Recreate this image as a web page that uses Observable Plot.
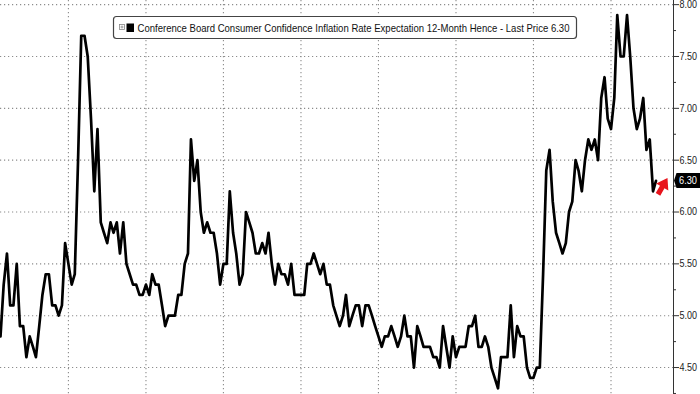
<!DOCTYPE html>
<html><head><meta charset="utf-8">
<script src="https://cdn.jsdelivr.net/npm/d3@7"></script>
<script src="https://cdn.jsdelivr.net/npm/@observablehq/plot@0.6"></script>
<style>
html,body{margin:0;padding:0;background:#fff;}
#chart{width:700px;height:394px;overflow:hidden;}
</style></head><body><div id="chart"></div>
<script>
// ---- data ----
const seriesName = "Conference Board Consumer Confidence Inflation Rate Expectation 12-Month Hence";
const lastLabel = "Last Price";
const startYear = 2006, startMonth = 4; // first monthly observation: April 2006
const values = [
  4.8,5.3,5.6,5.1,5.1,5.5,4.9,4.9,4.6,4.8,4.7,4.6,4.9,5.2,5.4,5.4,5.1,5.1,5.0,5.1,
  5.7,5.5,5.3,5.4,6.5,7.7,7.7,7.5,6.9,6.2,6.8,5.9,5.8,5.7,5.9,5.8,5.9,5.6,5.9,5.5,
  5.4,5.3,5.3,5.2,5.2,5.3,5.2,5.4,5.3,5.3,5.1,4.9,5.0,5.0,5.0,5.2,5.2,5.5,5.6,6.7,
  6.3,6.5,6.0,5.8,5.9,5.8,5.8,5.6,5.3,5.5,5.5,6.2,5.8,5.6,5.3,5.4,6.0,5.9,5.8,5.6,
  5.6,5.7,5.6,5.8,5.5,5.3,5.5,5.4,5.4,5.3,5.5,5.2,5.2,5.2,5.2,5.5,5.5,5.6,5.5,5.4,
  5.5,5.3,5.3,5.1,5.0,4.9,5.0,5.2,4.9,5.0,5.1,5.1,4.9,5.1,5.1,5.0,4.9,4.8,4.7,4.8,
  4.8,4.9,4.8,4.7,4.8,5.0,4.8,4.8,4.5,4.9,4.8,4.7,4.7,4.7,4.6,4.6,4.5,4.9,4.7,4.5,
  4.8,4.6,4.7,4.7,4.7,4.9,4.9,5.0,4.7,4.7,4.8,4.7,4.5,4.4,4.3,4.6,4.6,4.6,5.1,4.6,
  4.9,4.8,4.8,4.5,4.4,4.4,4.5,4.5,5.4,6.4,6.6,6.1,5.8,5.7,5.6,5.7,6.0,6.1,6.5,6.4,
  6.2,6.5,6.7,6.6,6.7,6.5,7.1,7.3,6.9,6.8,7.1,7.9,7.5,7.5,7.9,7.5,7.0,6.8,6.9,7.1,
  6.6,6.7,6.2,6.3
];
const gridYears = [2008, 2010, 2012, 2014, 2016, 2018, 2020, 2022];
const yTicks = [4.5, 5.0, 5.5, 6.0, 6.5, 7.0, 7.5, 8.0];
const yMinorTicks = [4.25, 4.75, 5.25, 5.75, 6.25, 6.75, 7.25, 7.75];
const lastPrice = values[values.length - 1];

const data = values.map((v, i) => ({date: new Date(Date.UTC(startYear, startMonth - 1 + i, 1)), v}));
const lastDate = data[data.length - 1].date;

const FONT = "'Liberation Sans',Arial,sans-serif";

const chart = Plot.plot({
  width: 700, height: 394,
  marginLeft: 0, marginRight: 27, marginTop: 0, marginBottom: 0,
  style: {fontFamily: FONT, background: "#fff", color: "#222"},
  x: {type: "utc", domain: [new Date(Date.UTC(2006, 3, 1)), new Date(Date.UTC(2023, 7, 13))], axis: null, label: null},
  y: {domain: [4.24, 8.04], axis: null, label: null},
  marks: [
    Plot.ruleY(yTicks, {stroke: "#8c8c8c", strokeWidth: 1.1, strokeDasharray: "1.2,2.8"}),
    Plot.ruleX(gridYears.map(y => new Date(Date.UTC(y, 0, 1))), {stroke: "#8c8c8c", strokeWidth: 1.1, strokeDasharray: "1.2,2.8"}),
    Plot.line(data, {x: "date", y: "v", stroke: "#000", strokeWidth: 2.7}),
    Plot.tickY(yMinorTicks, {frameAnchor: "right", y: d => d, stroke: "#333", inset: 0}),
    Plot.axisY(yTicks, {anchor: "right", label: null, tickSize: 5, tickPadding: 1, tickFormat: d3.format(".2f"), fontSize: 10.5, stroke: "#333", fill: "#222", textAnchor: "start"}),
    Plot.frame({anchor: "right", stroke: "#333"})
  ]
});
document.getElementById("chart").appendChild(chart);

const svg = d3.select(chart);
// minor ticks: short marks just right of the axis line
const xs = chart.scale("x"), ys = chart.scale("y");
const xRight = 700 - 27;
svg.selectAll("g[aria-label='tick'] line").attr("x1", xRight).attr("x2", xRight + 3);

// narrow the axis labels like the reference's condensed face
svg.selectAll("g[aria-label='y-axis tick label'] text")
  .attr("textLength", 17.5).attr("lengthAdjust", "spacingAndGlyphs");

// ---- legend box, last-price tag and arrow (positioned with Plot's own scales) ----
const yPix = ys.apply(lastPrice);
const xLast = xs.apply(lastDate);

const leg = svg.append("g").attr("text-anchor", "start");
leg.append("rect").attr("x", 113.5).attr("y", 16.5).attr("width", 463).attr("height", 22).attr("rx", 3)
  .attr("fill", "#fff").attr("stroke", "#444").attr("stroke-width", 1.2);
leg.append("rect").attr("x", 119.5).attr("y", 24.5).attr("width", 5).attr("height", 5)
  .attr("fill", "none").attr("stroke", "#888").attr("stroke-width", 0.8);
leg.append("path").attr("d", "M120.5,27H123.5M122,25.5V28.5").attr("stroke", "#888").attr("stroke-width", 0.8);
leg.append("rect").attr("x", 126.5).attr("y", 23.5).attr("width", 7.5).attr("height", 8.5).attr("fill", "#000");
leg.append("text").attr("x", 137.5).attr("y", 31.5).attr("text-anchor", "start")
  .attr("font-family", FONT).attr("font-size", 10.8).attr("fill", "#111")
  .attr("textLength", 432).attr("lengthAdjust", "spacingAndGlyphs")
  .text(`${seriesName} - ${lastLabel} ${d3.format(".2f")(lastPrice)}`);

const tag = svg.append("g");
tag.append("path")
  .attr("d", `M${xRight + 1},${yPix} L${xRight + 3.5},${yPix - 7.5} H700 V${yPix + 7.5} H${xRight + 3.5} Z`)
  .attr("fill", "#000");
tag.append("text").attr("x", 679).attr("y", yPix + 4).attr("text-anchor", "start")
  .attr("font-family", FONT).attr("font-size", 10.5).attr("fill", "#fff")
  .attr("textLength", 18).attr("lengthAdjust", "spacingAndGlyphs")
  .text(d3.format(".2f")(lastPrice));

// red block arrow pointing up-right, just after the last observation
svg.append("path")
  .attr("d", "M0,0 L7,10.5 L2.6,10.5 L2.6,19 L-2.6,19 L-2.6,10.5 L-7,10.5 Z")
  .attr("transform", `translate(${xLast + 12},${yPix - 2.5}) rotate(30)`)
  .attr("fill", "#e8141c");
</script></body></html>
